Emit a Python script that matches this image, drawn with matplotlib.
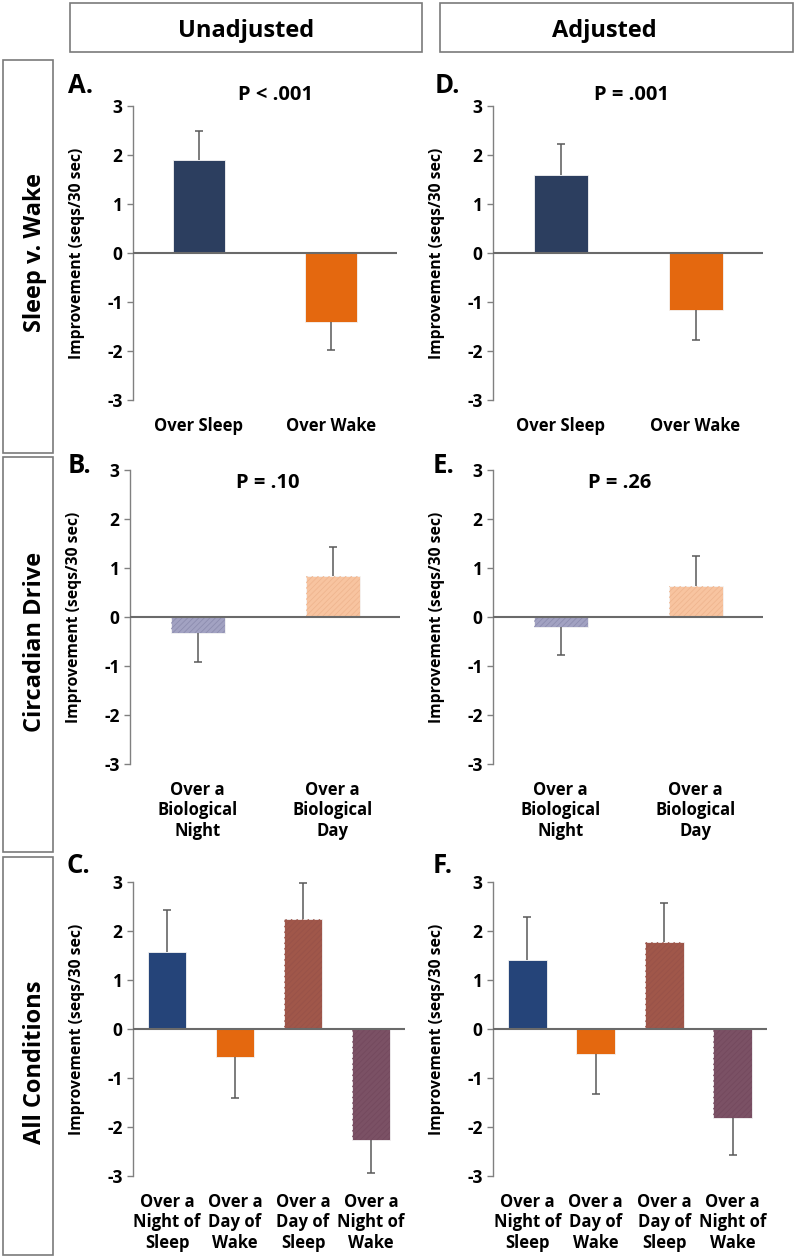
import matplotlib
matplotlib.use('Agg')
from matplotlib import pyplot as plt
from matplotlib.patches import Rectangle

plt.rcParams['font.family'] = ['Open Sans', 'DejaVu Sans']
plt.rcParams['font.weight'] = 'bold'
plt.rcParams['hatch.linewidth'] = 0.6

W, H = 796, 1258

# categories
conds_sw = ['Over Sleep', 'Over Wake']
conds_circ = ['Over a\nBiological\nNight', 'Over a\nBiological\nDay']
conds_all = ['Over a\nNight of\nSleep', 'Over a\nDay of\nWake',
             'Over a\nDay of\nSleep', 'Over a\nNight of\nWake']

# improvement (seqs/30 sec) and one-sided error
unadj_sw = [1.9, -1.4]
unadj_sw_err = [0.6, 0.57]
adj_sw = [1.6, -1.17]
adj_sw_err = [0.63, 0.6]

unadj_circ = [-0.33, 0.84]
unadj_circ_err = [0.59, 0.59]
adj_circ = [-0.2, 0.63]
adj_circ_err = [0.58, 0.61]

unadj_all = [1.57, -0.57, 2.24, -2.27]
unadj_all_err = [0.86, 0.84, 0.74, 0.66]
adj_all = [1.41, -0.51, 1.78, -1.82]
adj_all_err = [0.88, 0.82, 0.79, 0.75]

p_texts = ['P < .001', 'P = .10', '', 'P = .001', 'P = .26', '']
letters = ['A.', 'B.', 'C.', 'D.', 'E.', 'F.']

sw_colors = ['#2c3e5f', '#e4680f']
circ_colors = ['#a2a2c2', '#f8c4a0']
circ_hatch = ['#8d8daf', '#efb58f']
all_colors = ['#254479', '#e4680f', '#a0574a', '#7b5165']
all_hatch = [None, None, '#985249', '#74495e']


def rect(l, r, t, b):
    return [l / W, 1 - b / H, (r - l) / W, (b - t) / H]


def fx(x):
    return x / W


def fy(y):
    return 1 - y / H


def draw_panel(ax, names, vals, errs, colors, hatch_cols, width):
    x = list(range(len(vals)))
    ax.bar(x, vals, width=width, color=colors, edgecolor='#f4f4f4',
           linewidth=0.6, zorder=2)
    for i, hc in enumerate(hatch_cols):
        if hc:
            ax.bar(x[i], vals[i], width=width, color='none', edgecolor=hc,
                   linewidth=0, hatch='//////', zorder=2)
    tops = [v + e if v > 0 else v - e for v, e in zip(vals, errs)]
    ax.vlines(x, vals, tops, color='#595959', lw=1.1, zorder=3)
    ax.plot(x, tops, ls='none', marker='_', ms=6, mew=1.1, color='#595959',
            zorder=3)
    ax.axhline(0, color='#6a6a6a', lw=1.5, zorder=4)
    ax.set_xlim(-0.5, len(vals) - 0.5)
    ax.set_ylim(-3, 3)
    ax.set_yticks([-3, -2, -1, 0, 1, 2, 3])
    ax.set_yticklabels(['-3', '-2', '-1', '0', '1', '2', '3'],
                       fontsize=12.5, fontweight='bold')
    ax.set_xticks(x)
    ax.set_xticklabels(names, fontsize=12, fontweight='bold',
                       linespacing=1.2)
    ax.tick_params(axis='x', length=0, pad=12)
    ax.tick_params(axis='y', direction='out', length=4.5, width=1,
                   color='#808080', pad=3)
    for s in ['top', 'right', 'bottom']:
        ax.spines[s].set_visible(False)
    ax.spines['left'].set_color('#808080')
    ax.spines['left'].set_linewidth(1)


fig = plt.figure(figsize=(W / 100, H / 100), dpi=100)

rects = [rect(133, 397, 106, 400), rect(130, 400, 470, 764),
         rect(133, 405, 882, 1176), rect(493, 763, 106, 400),
         rect(493, 763, 470, 764), rect(493, 767, 882, 1176)]
panels = [
    (conds_sw, unadj_sw, unadj_sw_err, sw_colors, [None, None], 0.4),
    (conds_circ, unadj_circ, unadj_circ_err, circ_colors, circ_hatch, 0.4),
    (conds_all, unadj_all, unadj_all_err, all_colors, all_hatch, 0.57),
    (conds_sw, adj_sw, adj_sw_err, sw_colors, [None, None], 0.4),
    (conds_circ, adj_circ, adj_circ_err, circ_colors, circ_hatch, 0.4),
    (conds_all, adj_all, adj_all_err, all_colors, all_hatch, 0.57),
]
for r, p in zip(rects, panels):
    ax = fig.add_axes(r)
    draw_panel(ax, *p)
    # y label centred on the axes, about 56 px left of the spine
    yc = r[1] + r[3] / 2
    fig.text(r[0] - 56 / W, yc, 'Improvement (seqs/30 sec)', fontsize=11.3,
             fontweight='bold', rotation=90, ha='center', va='center')

# panel letters and p-values
letter_pos = [(68, 93), (68, 473), (67, 873), (435, 93), (433, 473), (433, 873)]
for (x, y), t in zip(letter_pos, letters):
    fig.text(fx(x), fy(y), t, fontsize=18.5, fontweight='bold', ha='left',
             va='baseline')
p_pos = [(276, 100), (268, 488), (0, 0), (632, 100), (620, 488), (0, 0)]
for (x, y), t in zip(p_pos, p_texts):
    if t:
        fig.text(fx(x), fy(y), t, fontsize=14.5, fontweight='bold',
                 ha='center', va='baseline')

# header boxes
box_kw = dict(transform=fig.transFigure, facecolor='none',
              edgecolor='#7a7a7a', lw=1.2)
fig.patches.append(Rectangle((fx(70), fy(52)), (422 - 70) / W, 49 / H, **box_kw))
fig.patches.append(Rectangle((fx(440), fy(52)), (793 - 440) / W, 49 / H, **box_kw))
fig.text(fx(246), fy(37), 'Unadjusted', fontsize=17, fontweight='bold',
         ha='center', va='baseline')
fig.text(fx(604), fy(37), 'Adjusted', fontsize=17, fontweight='bold',
         ha='center', va='baseline')

# row boxes
rows = [(60, 453, 253, 'Sleep v. Wake'), (457, 852, 642, 'Circadian Drive'),
        (857, 1255, 1062, 'All Conditions')]
for t, b, c, name in rows:
    fig.patches.append(Rectangle((fx(3), fy(b)), 50 / W, (b - t) / H, **box_kw))
    fig.text(fx(35), fy(c), name, fontsize=17, fontweight='bold',
             rotation=90, ha='center', va='center')

fig.savefig('out.png', dpi=100)
